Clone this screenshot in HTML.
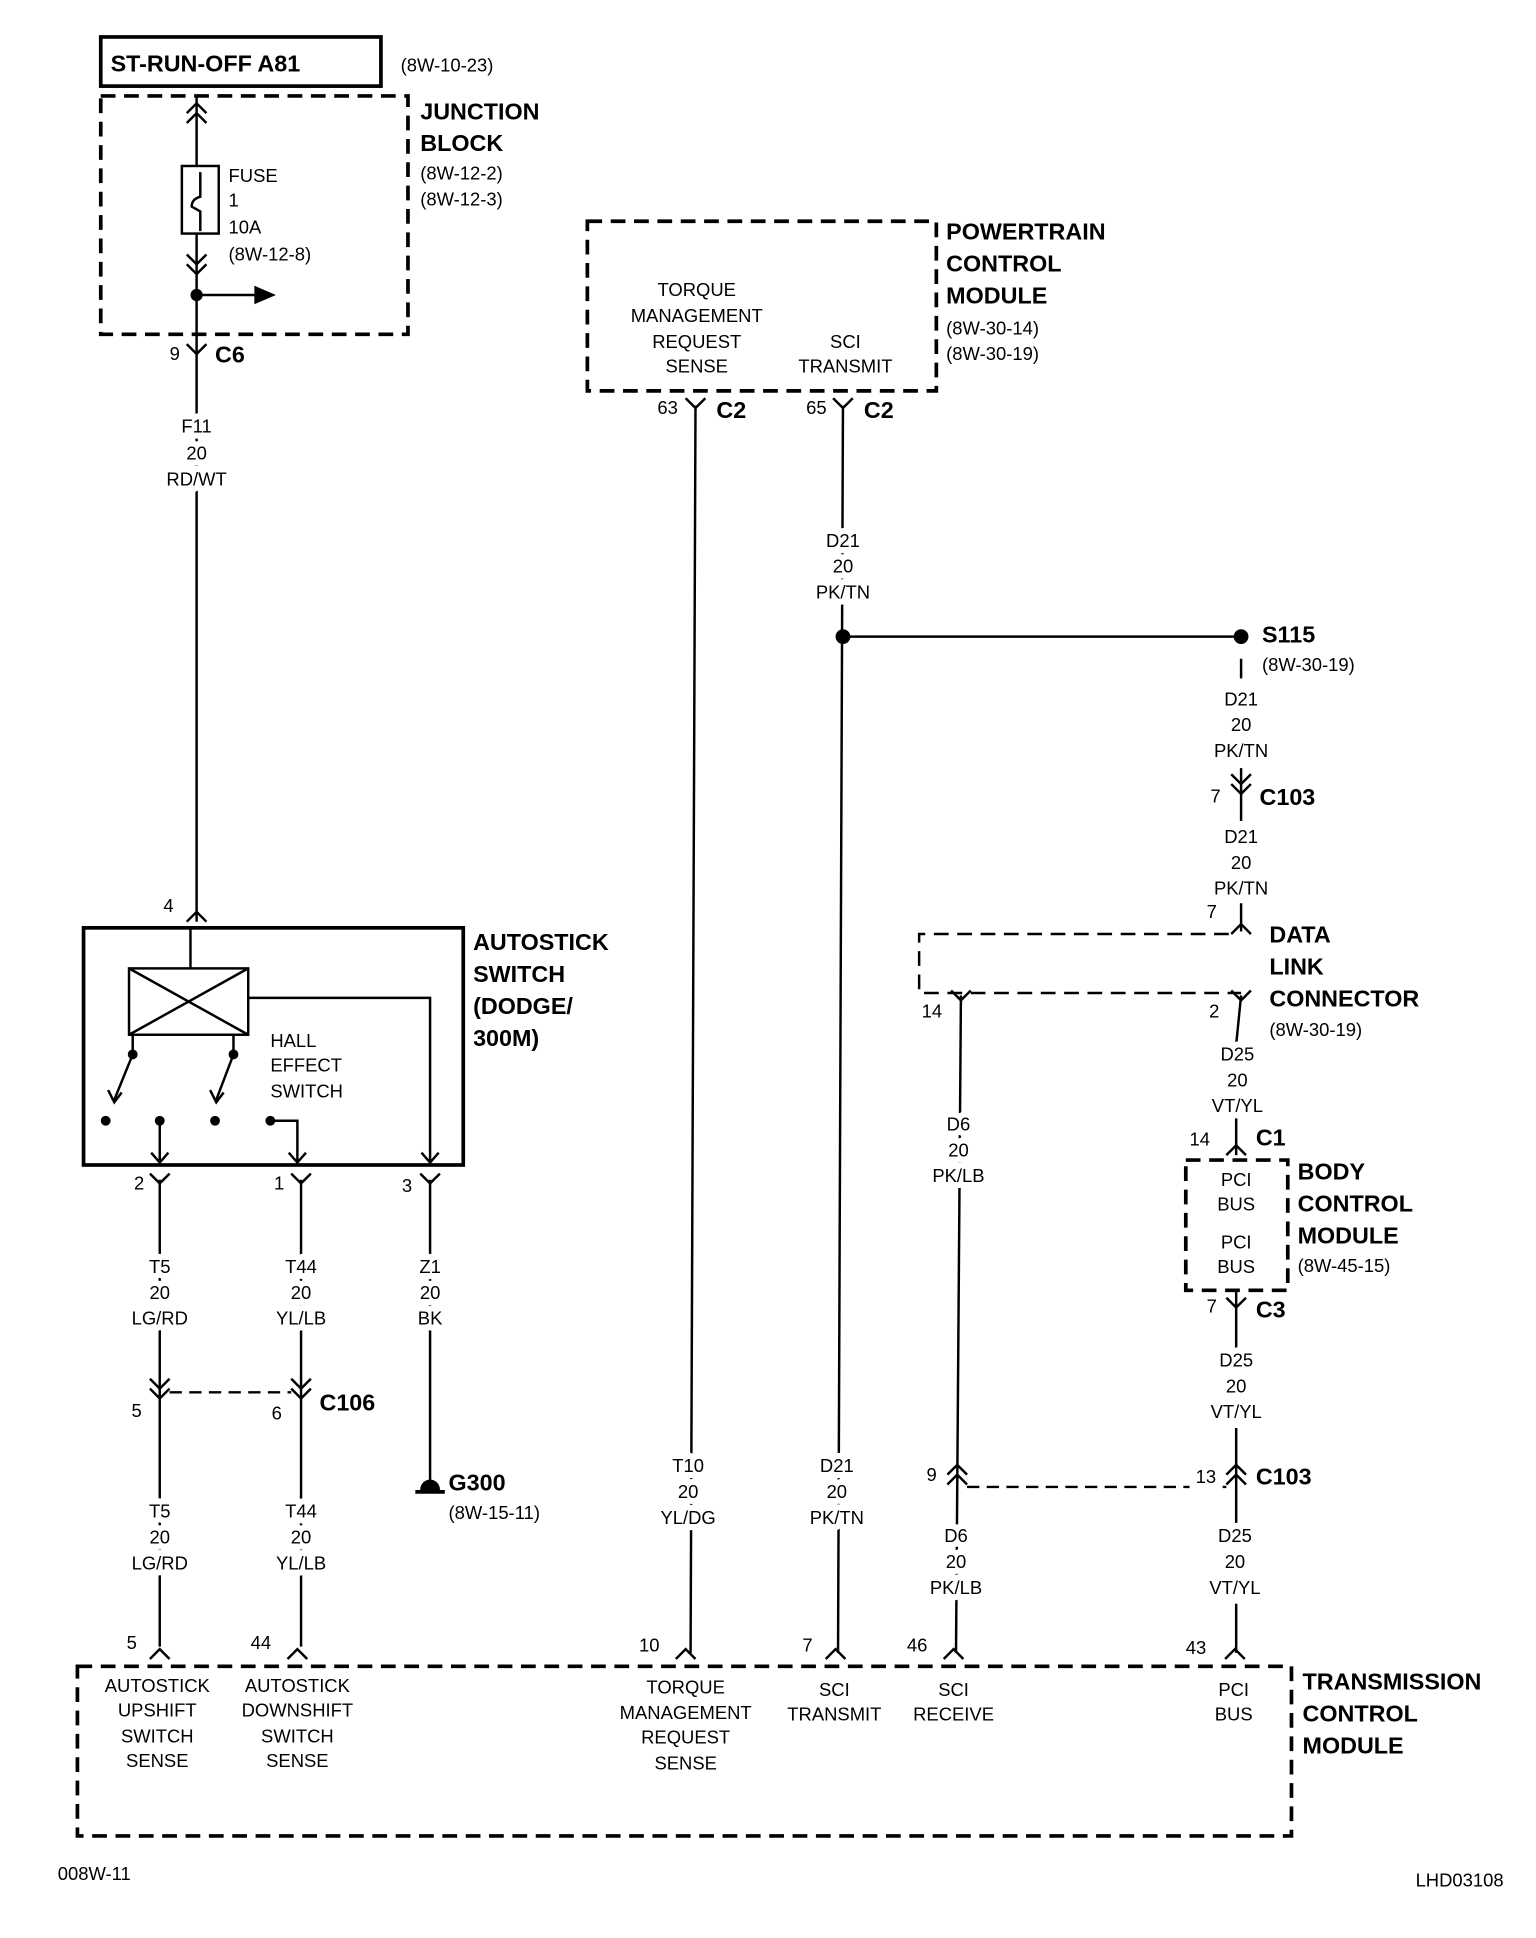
<!DOCTYPE html>
<html><head><meta charset="utf-8"><style>
html,body{margin:0;padding:0;background:#fff}
svg{display:block}
text{font-family:"Liberation Sans",sans-serif;fill:#000}
.s{font-size:15px;paint-order:stroke;stroke:#fff;stroke-width:10px;stroke-linejoin:round}
.b{font-size:19px;font-weight:bold}
.c{text-anchor:middle}
</style></head><body>
<svg width="1536" height="1938" viewBox="0 0 1250 1577" xmlns="http://www.w3.org/2000/svg">
<g stroke="#000" fill="none" stroke-width="2">
<rect x="82" y="30" width="228" height="40" stroke-width="3"/>
<rect x="82" y="78" width="250" height="194" stroke-dasharray="12,7" stroke-width="3"/>
<line x1="160" y1="78" x2="160" y2="750"/>
<path d="M152,92 L160,84 L168,92 M152,100 L160,92 L168,100"/>
<rect x="148" y="135" width="30" height="55" fill="#fff"/>
<path d="M163,140 L163,160 Q156,162 156,168 L163,172 L163,188"/>
<path d="M152,207 L160,215 L168,207 M152,215 L160,223 L168,215"/>
<line x1="160" y1="240" x2="210" y2="240"/>
<path d="M208,234 L222,240 L208,246 Z" fill="#000"/>
<circle cx="160" cy="240" r="4" fill="#000"/>
<path d="M152,280 L160,288 L168,280"/>
<path d="M152,750 L160,742 L168,750"/>
<rect x="68" y="755" width="309" height="193" stroke-width="3"/>
<rect x="105" y="788" width="97" height="54"/>
<path d="M105,788 L202,842 M202,788 L105,842"/>
<line x1="155" y1="788" x2="155" y2="755"/>
<path d="M202,812 L350,812 L350,948"/>
<path d="M343,938 L350,946 L357,938"/>
<line x1="108" y1="842" x2="108" y2="858"/>
<line x1="190" y1="842" x2="190" y2="858"/>
<path d="M108,858 L93,895 M190,858 L176,895"/>
<path d="M88,887 L93,897 L99,889 M171,887 L176,897 L182,889"/>
<line x1="130" y1="912" x2="130" y2="948"/>
<path d="M123,938 L130,946 L137,938"/>
<path d="M220,912 L242,912 L242,948"/>
<path d="M235,938 L242,946 L249,938"/>
<g fill="#000" stroke="none">
<circle cx="108" cy="858" r="4"/><circle cx="190" cy="858" r="4"/>
<circle cx="86" cy="912" r="4"/><circle cx="130" cy="912" r="4"/>
<circle cx="175" cy="912" r="4"/><circle cx="220" cy="912" r="4"/>
</g>
<path d="M122,955 L130,963 L138,955 M237,955 L245,963 L253,955 M342,955 L350,963 L358,955"/>
<line x1="130" y1="960" x2="130" y2="1340"/>
<line x1="245" y1="960" x2="245" y2="1340"/>
<line x1="350" y1="960" x2="350" y2="1210"/>
<path d="M122,1122 L130,1130 L138,1122 M122,1130 L130,1138 L138,1130"/>
<path d="M237,1122 L245,1130 L253,1122 M237,1130 L245,1138 L253,1130"/>
<line x1="138" y1="1133" x2="237" y2="1133" stroke-dasharray="10,6"/>
<line x1="338" y1="1214" x2="362" y2="1214" stroke-width="3"/>
<path d="M343,1212 A7,7 0 0 1 357,1212 Z" fill="#000"/>
<rect x="478" y="180" width="284" height="138" stroke-dasharray="12,7" stroke-width="3"/>
<path d="M558,324 L566,332 L574,324 M678,324 L686,332 L694,324"/>
<line x1="566" y1="330" x2="562" y2="1345"/>
<line x1="686" y1="330" x2="682" y2="1345"/>
<line x1="686" y1="518" x2="1010" y2="518"/>
<circle cx="686" cy="518" r="5" fill="#000"/>
<circle cx="1010" cy="518" r="5" fill="#000"/>
<line x1="1010" y1="536" x2="1010" y2="552"/>
<line x1="1010" y1="625" x2="1010" y2="668"/>
<path d="M1002,630 L1010,638 L1018,630 M1002,638 L1010,646 L1018,638"/>
<line x1="1010" y1="735" x2="1010" y2="758"/>
<path d="M1002,760 L1010,752 L1018,760"/>
<path d="M1000,760 L748,760 L748,808 L1010,808" stroke-dasharray="12,7"/>
<path d="M774,806 L782,814 L790,806 M1002,806 L1010,814 L1018,806"/>
<line x1="782" y1="810" x2="778" y2="1345"/>
<line x1="1010" y1="810" x2="1006" y2="850"/>
<line x1="1006" y1="910" x2="1006" y2="940"/>
<path d="M998,940 L1006,932 L1014,940"/>
<rect x="965" y="944" width="83" height="106" stroke-dasharray="12,7" stroke-width="3"/>
<path d="M998,1056 L1006,1064 L1014,1056"/>
<line x1="1006" y1="1050" x2="1006" y2="1098"/>
<line x1="1006" y1="1162" x2="1006" y2="1240"/>
<path d="M998,1200 L1006,1192 L1014,1200 M998,1208 L1006,1200 L1014,1208"/>
<path d="M771,1200 L779,1192 L787,1200 M771,1208 L779,1200 L787,1208"/>
<line x1="787" y1="1210" x2="998" y2="1210" stroke-dasharray="10,6"/>
<line x1="1006" y1="1305" x2="1006" y2="1345"/>
<path d="M122,1350 L130,1342 L138,1350 M234,1350 L242,1342 L250,1350 M550,1350 L558,1342 L566,1350 M672,1350 L680,1342 L688,1350 M768,1350 L776,1342 L784,1350 M997,1350 L1005,1342 L1013,1350"/>
<rect x="63" y="1356" width="988" height="138" stroke-dasharray="12,7" stroke-width="3"/>
</g>
<text x="90" y="58" class="b">ST-RUN-OFF A81</text>
<text x="326" y="58" class="s">(8W-10-23)</text>
<text x="342" y="97" class="b">JUNCTION</text>
<text x="342" y="123" class="b">BLOCK</text>
<text x="342" y="146" class="s">(8W-12-2)</text>
<text x="342" y="167" class="s">(8W-12-3)</text>
<text x="186" y="148" class="s">FUSE</text>
<text x="186" y="168" class="s">1</text>
<text x="186" y="190" class="s">10A</text>
<text x="186" y="212" class="s">(8W-12-8)</text>
<text x="138" y="293" class="s">9</text>
<text x="175" y="295" class="b">C6</text>
<text x="160" y="352" class="s c">F11</text><text x="160" y="374" class="s c">20</text><text x="160" y="395" class="s c">RD/WT</text>
<text x="133" y="742" class="s">4</text>
<text x="385" y="773" class="b">AUTOSTICK</text>
<text x="385" y="799" class="b">SWITCH</text>
<text x="385" y="825" class="b">(DODGE/</text>
<text x="385" y="851" class="b">300M)</text>
<text x="220" y="852" class="s">HALL</text>
<text x="220" y="872" class="s">EFFECT</text>
<text x="220" y="893" class="s">SWITCH</text>
<text x="109" y="968" class="s">2</text>
<text x="223" y="968" class="s">1</text>
<text x="327" y="970" class="s">3</text>
<text x="130" y="1036" class="s c">T5</text><text x="130" y="1057" class="s c">20</text><text x="130" y="1078" class="s c">LG/RD</text>
<text x="245" y="1036" class="s c">T44</text><text x="245" y="1057" class="s c">20</text><text x="245" y="1078" class="s c">YL/LB</text>
<text x="350" y="1036" class="s c">Z1</text><text x="350" y="1057" class="s c">20</text><text x="350" y="1078" class="s c">BK</text>
<text x="107" y="1153" class="s">5</text>
<text x="221" y="1155" class="s">6</text>
<text x="260" y="1148" class="b">C106</text>
<text x="365" y="1213" class="b">G300</text>
<text x="365" y="1236" class="s">(8W-15-11)</text>
<text x="130" y="1235" class="s c">T5</text><text x="130" y="1256" class="s c">20</text><text x="130" y="1277" class="s c">LG/RD</text>
<text x="245" y="1235" class="s c">T44</text><text x="245" y="1256" class="s c">20</text><text x="245" y="1277" class="s c">YL/LB</text>
<text x="567" y="241" class="s c">TORQUE</text><text x="567" y="262" class="s c">MANAGEMENT</text><text x="567" y="283" class="s c">REQUEST</text><text x="567" y="303" class="s c">SENSE</text>
<text x="688" y="283" class="s c">SCI</text><text x="688" y="303" class="s c">TRANSMIT</text>
<text x="770" y="195" class="b">POWERTRAIN</text>
<text x="770" y="221" class="b">CONTROL</text>
<text x="770" y="247" class="b">MODULE</text>
<text x="770" y="272" class="s">(8W-30-14)</text>
<text x="770" y="293" class="s">(8W-30-19)</text>
<text x="535" y="337" class="s">63</text><text x="583" y="340" class="b">C2</text>
<text x="656" y="337" class="s">65</text><text x="703" y="340" class="b">C2</text>
<text x="686" y="445" class="s c">D21</text><text x="686" y="466" class="s c">20</text><text x="686" y="487" class="s c">PK/TN</text>
<text x="1027" y="523" class="b">S115</text>
<text x="1027" y="546" class="s">(8W-30-19)</text>
<text x="1010" y="574" class="s c">D21</text><text x="1010" y="595" class="s c">20</text><text x="1010" y="616" class="s c">PK/TN</text>
<text x="985" y="653" class="s">7</text><text x="1025" y="655" class="b">C103</text>
<text x="1010" y="686" class="s c">D21</text><text x="1010" y="707" class="s c">20</text><text x="1010" y="728" class="s c">PK/TN</text>
<text x="982" y="747" class="s">7</text>
<text x="1033" y="767" class="b">DATA</text>
<text x="1033" y="793" class="b">LINK</text>
<text x="1033" y="819" class="b">CONNECTOR</text>
<text x="1033" y="843" class="s">(8W-30-19)</text>
<text x="750" y="828" class="s">14</text>
<text x="984" y="828" class="s">2</text>
<text x="1007" y="863" class="s c">D25</text><text x="1007" y="884" class="s c">20</text><text x="1007" y="905" class="s c">VT/YL</text>
<text x="780" y="920" class="s c">D6</text><text x="780" y="941" class="s c">20</text><text x="780" y="962" class="s c">PK/LB</text>
<text x="968" y="932" class="s">14</text><text x="1022" y="932" class="b">C1</text>
<text x="1006" y="965" class="s c">PCI</text><text x="1006" y="985" class="s c">BUS</text>
<text x="1006" y="1016" class="s c">PCI</text><text x="1006" y="1036" class="s c">BUS</text>
<text x="1056" y="960" class="b">BODY</text>
<text x="1056" y="986" class="b">CONTROL</text>
<text x="1056" y="1012" class="b">MODULE</text>
<text x="1056" y="1035" class="s">(8W-45-15)</text>
<text x="982" y="1068" class="s">7</text><text x="1022" y="1072" class="b">C3</text>
<text x="1006" y="1112" class="s c">D25</text><text x="1006" y="1133" class="s c">20</text><text x="1006" y="1154" class="s c">VT/YL</text>
<text x="754" y="1205" class="s">9</text>
<text x="973" y="1207" class="s" text-decoration="underline">13</text>
<text x="1022" y="1208" class="b">C103</text>
<text x="560" y="1198" class="s c">T10</text><text x="560" y="1219" class="s c">20</text><text x="560" y="1240" class="s c">YL/DG</text>
<text x="681" y="1198" class="s c">D21</text><text x="681" y="1219" class="s c">20</text><text x="681" y="1240" class="s c">PK/TN</text>
<text x="778" y="1255" class="s c">D6</text><text x="778" y="1276" class="s c">20</text><text x="778" y="1297" class="s c">PK/LB</text>
<text x="1005" y="1255" class="s c">D25</text><text x="1005" y="1276" class="s c">20</text><text x="1005" y="1297" class="s c">VT/YL</text>
<text x="103" y="1342" class="s">5</text>
<text x="204" y="1342" class="s">44</text>
<text x="520" y="1344" class="s">10</text>
<text x="653" y="1344" class="s">7</text>
<text x="738" y="1344" class="s">46</text>
<text x="965" y="1346" class="s">43</text>
<text x="128" y="1377" class="s c">AUTOSTICK</text><text x="128" y="1397" class="s c">UPSHIFT</text><text x="128" y="1418" class="s c">SWITCH</text><text x="128" y="1438" class="s c">SENSE</text>
<text x="242" y="1377" class="s c">AUTOSTICK</text><text x="242" y="1397" class="s c">DOWNSHIFT</text><text x="242" y="1418" class="s c">SWITCH</text><text x="242" y="1438" class="s c">SENSE</text>
<text x="558" y="1378" class="s c">TORQUE</text><text x="558" y="1399" class="s c">MANAGEMENT</text><text x="558" y="1419" class="s c">REQUEST</text><text x="558" y="1440" class="s c">SENSE</text>
<text x="679" y="1380" class="s c">SCI</text><text x="679" y="1400" class="s c">TRANSMIT</text>
<text x="776" y="1380" class="s c">SCI</text><text x="776" y="1400" class="s c">RECEIVE</text>
<text x="1004" y="1380" class="s c">PCI</text><text x="1004" y="1400" class="s c">BUS</text>
<text x="1060" y="1375" class="b">TRANSMISSION</text>
<text x="1060" y="1401" class="b">CONTROL</text>
<text x="1060" y="1427" class="b">MODULE</text>
<text x="47" y="1530" class="s">008W-11</text>
<text x="1152" y="1535" class="s">LHD03108</text>
</svg>
</body></html>
